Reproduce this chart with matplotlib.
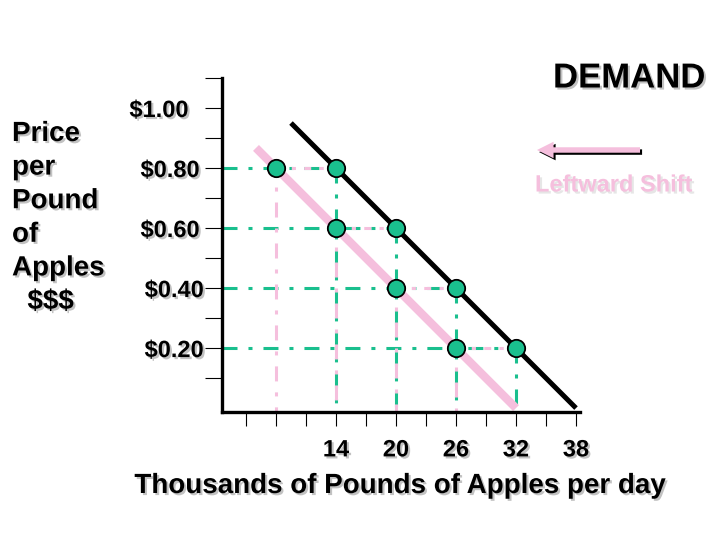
import matplotlib
matplotlib.use('Agg')
import matplotlib.pyplot as plt
import matplotlib.patheffects as pe
import matplotlib.transforms as mtransforms

plt.rcParams['font.family'] = ['Liberation Sans', 'DejaVu Sans']
plt.rcParams['font.weight'] = 'bold'
plt.rcParams['lines.scale_dashes'] = False

# Data
demand_x = [9.5, 14, 20, 26, 32, 38]
demand_y = [0.95, 0.80, 0.60, 0.40, 0.20, 0.00]
shifted_x = [6, 8, 14, 20, 26, 32]
shifted_y = [0.867, 0.80, 0.60, 0.40, 0.20, 0.00]

demand_pts_x = [14, 20, 26, 32]
shifted_pts_x = [8, 14, 20, 26]
pts_price = [0.80, 0.60, 0.40, 0.20]

x_ticks = [5, 8, 11, 14, 17, 20, 23, 26, 29, 32, 35, 38]
x_labels = ['', '', '', '14', '', '20', '', '26', '', '32', '', '38']
y_ticks = [0.1, 0.2, 0.3, 0.4, 0.5, 0.6, 0.7, 0.8, 0.9, 1.0, 1.1]
y_labels = ['', '$0.20', '', '$0.40', '', '$0.60', '', '$0.80', '', '$1.00', '']

GREEN = '#1ABF8E'
PINK = '#F5BFDD'
DASHDOT = (0, (10.8, 7.9, 2.9, 7.9))

shadow = [pe.SimplePatchShadow(offset=(1.5, -1.5), shadow_rgbFace='#a8a8a8', alpha=0.7), pe.Normal()]
light_shadow = [pe.SimplePatchShadow(offset=(1.5, -1.5), shadow_rgbFace='#dcdcdc', alpha=0.7), pe.Normal()]

fig = plt.figure(figsize=(7.2, 5.4), dpi=100)
ax = fig.add_axes([222 / 720, 1 - 412 / 540, (580 - 222) / 720, (412 - 78) / 540])
ax.set_xlim(2.6, 38.4)
ax.set_ylim(-0.013, 1.1)

# guide lines (green to original curve, pink to shifted curve)
for x, p in zip(demand_pts_x, pts_price):
    ax.plot([2.6, x], [p, p], color=GREEN, lw=2.2, ls=DASHDOT, zorder=1)
    ax.plot([x, x], [p, -0.013], color=GREEN, lw=2.2, ls=DASHDOT, zorder=1)
for x, xr, p in zip(shifted_pts_x, demand_pts_x, pts_price):
    ax.plot([x, xr], [p, p], color=PINK, lw=2.2, ls=(0, (5, 6, 3, 6)), zorder=1.5)
    ax.plot([x, x], [p, -0.013], color=PINK, lw=2.2, ls=(5, (10.8, 7.9, 2.9, 7.9)), zorder=1.2)

ax.plot(shifted_x, shifted_y, color=PINK, lw=6, solid_capstyle='butt', zorder=2)
ax.plot(demand_x, demand_y, color='black', lw=3.6, solid_capstyle='butt', zorder=3)

ax.plot(demand_pts_x, pts_price, 'o', ms=12.5, mfc=GREEN, mec='black', mew=1.3, zorder=4)
ax.plot(shifted_pts_x, pts_price, 'o', ms=12.5, mfc=GREEN, mec='black', mew=1.3, zorder=4)

for s in ['top', 'right']:
    ax.spines[s].set_visible(False)
for s in ['left', 'bottom']:
    ax.spines[s].set_linewidth(2.4)

ax.set_xticks(x_ticks)
ax.set_xticklabels(x_labels, fontsize=17, fontweight='bold')
ax.set_yticks(y_ticks)
ax.set_yticklabels(y_labels, fontsize=17, fontweight='bold')
ax.tick_params(axis='x', direction='out', length=10, width=0.8, pad=9)
ax.tick_params(axis='y', direction='out', length=12, width=0.8, pad=4)
for lab in ax.get_xticklabels() + ax.get_yticklabels():
    lab.set_path_effects(shadow)
for lab in ax.get_yticklabels():
    if lab.get_text() == '$1.00':
        lab.set_transform(lab.get_transform() + mtransforms.ScaledTranslation(-8 / 72, 0, fig.dpi_scale_trans))
    if lab.get_text() in ('$0.40', '$0.20'):
        lab.set_transform(lab.get_transform() + mtransforms.ScaledTranslation(3 / 72, 0, fig.dpi_scale_trans))

fig.text(12 / 720, 1 - 218 / 540, 'Price\nper\nPound\nof\nApples\n  $$$',
         fontsize=20, fontweight='bold', ha='left', va='center',
         linespacing=1.38, path_effects=shadow)
fig.text(400 / 720, 1 - 486 / 540, 'Thousands of Pounds of Apples per day',
         fontsize=20, fontweight='bold', ha='center', va='center', path_effects=shadow)
fig.text(553 / 720, 1 - 78 / 540, 'DEMAND', fontsize=25, fontweight='bold',
         ha='left', va='center', path_effects=shadow)
fig.text(535 / 720, 1 - 185 / 540, 'Leftward Shift', fontsize=17, fontweight='bold',
         color=PINK, ha='left', va='center', path_effects=light_shadow)

arr = ax.annotate('', xy=(537 / 720, 1 - 150 / 540), xytext=(640 / 720, 1 - 150 / 540),
                  xycoords='figure fraction', textcoords='figure fraction',
                  arrowprops=dict(arrowstyle='simple,tail_width=0.28,head_width=0.85,head_length=0.85',
                                  mutation_scale=14, fc=PINK, ec='none', shrinkA=0, shrinkB=0))
arr.arrow_patch.set_path_effects([pe.SimplePatchShadow(offset=(1.5, -1.5), shadow_rgbFace='black', alpha=1), pe.Normal()])

fig.savefig('out.png', dpi=100)
